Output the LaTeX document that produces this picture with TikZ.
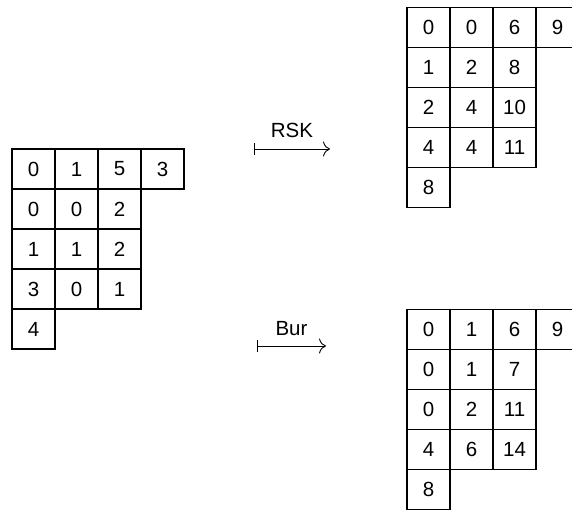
\documentclass[tikz,border=0pt]{standalone}
\usepackage{fontspec}
\setmainfont{Liberation Sans}
\usetikzlibrary{arrows.meta}
\begin{document}
\begin{tikzpicture}[x=1pt,y=-1pt,
  cell/.style={draw, line width=1.8pt, minimum width=43pt, minimum height=40pt,
    inner sep=0pt, outer sep=0pt, font=\fontsize{20.5}{24}\selectfont, anchor=center},
  mapsarrow/.style={line width=0.8pt,
    {Bar[width=12pt,line width=0.9pt]}-{Computer Modern Rightarrow[length=7pt,width=15pt,line width=0.9pt]}},
  lbl/.style={font=\fontsize{20.5}{24}\selectfont, inner sep=0pt}]
\useasboundingbox (0,0) rectangle (572,512);
\clip (0,0) rectangle (572,512);
% input tableau
\foreach \r/\entries in {1/{0,1,5,3},2/{0,0,2},3/{1,1,2},4/{3,0,1},5/{4}}{
  \foreach \v [count=\c] in \entries {
    \node[cell] (L-\r-\c) at ({12+43*(\c-0.5)},{149+40*(\r-0.5)}) {\v};
  }
}
% RSK tableau
\foreach \r/\entries in {1/{0,0,6,9},2/{1,2,8},3/{2,4,10},4/{4,4,11},5/{8}}{
  \foreach \v [count=\c] in \entries {
    \node[cell] (R-\r-\c) at ({407+43*(\c-0.5)},{7.5+40*(\r-0.5)}) {\v};
  }
}
% Bur tableau
\foreach \r/\entries in {1/{0,1,6,9},2/{0,1,7},3/{0,2,11},4/{4,6,14},5/{8}}{
  \foreach \v [count=\c] in \entries {
    \node[cell] (B-\r-\c) at ({407+43*(\c-0.5)},{309.5+40*(\r-0.5)}) {\v};
  }
}
% arrows
\coordinate (rskstart) at (254,149);
\coordinate (rskend) at (330,149);
\coordinate (burstart) at (257,346);
\coordinate (burend) at (326,346);
\draw[mapsarrow] (rskstart) -- node[lbl, midway, anchor=south, yshift=11pt] (rsklabel) {RSK} (rskend);
\draw[mapsarrow] (burstart) -- node[lbl, midway, anchor=south, yshift=10pt] (burlabel) {Bur} (burend);
\end{tikzpicture}
\end{document}
